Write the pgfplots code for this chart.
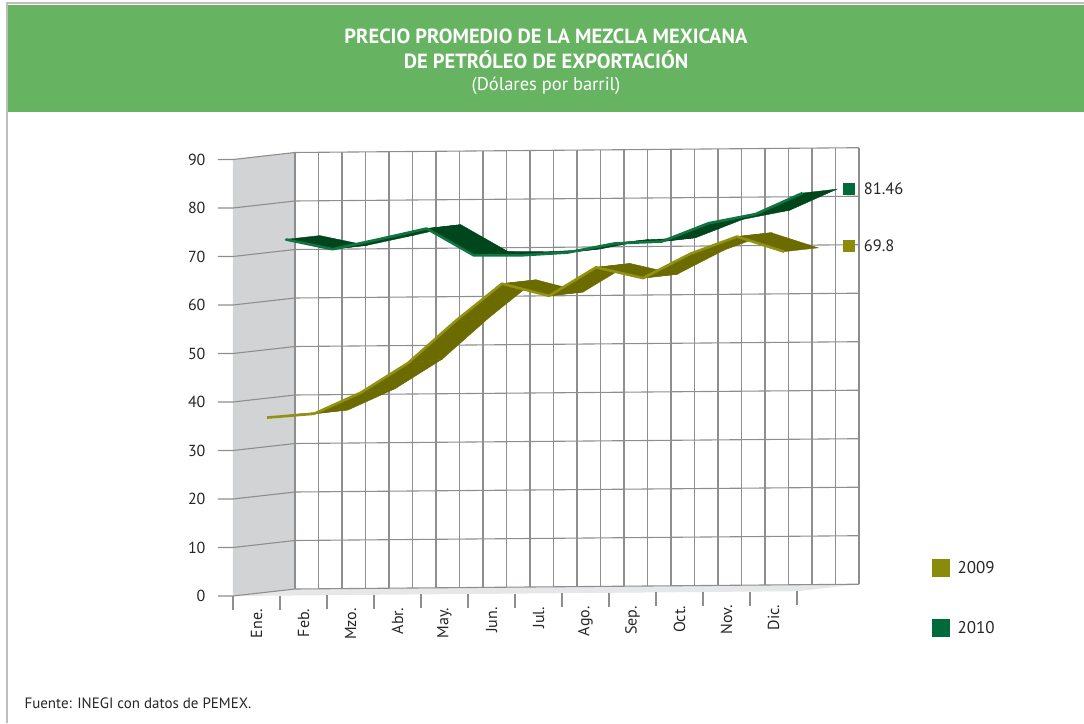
\documentclass[border=0pt]{standalone}
\usepackage{pgfplots}
\pgfplotsset{compat=1.18}
\usepackage{pgfplotstable}
\usepackage{fontspec}
\setmainfont{PT Sans}
\definecolor{banner}{HTML}{66B462}
\definecolor{wallgray}{HTML}{D2D3D5}
\definecolor{floorgray}{HTML}{E6E7E8}
\definecolor{gridgray}{HTML}{8E8E8E}
\definecolor{olivedark}{HTML}{6B6B00}
\definecolor{olivelight}{HTML}{929212}
\definecolor{olivekey}{HTML}{8B8B0B}
\definecolor{greendark}{HTML}{00461D}
\definecolor{greenlight}{HTML}{0E7543}
\definecolor{greenkey}{HTML}{006B3A}
\definecolor{framegray}{HTML}{BDBDBD}
\pgfplotsset{colormap={cmolive}{color=(olivedark) color=(olivedark)},
             colormap={cmgreen}{color=(greendark) color=(greendark)}}

% 2009: month centre m, depth d (front row, then back row), price v
\pgfplotstableread{
m    d    v
0.5  0.17 36.5
1.5  0.17 37.2
2.5  0.17 41.5
3.5  0.17 47.5
4.5  0.17 56.0
5.5  0.17 63.7
6.5  0.17 61.1
7.5  0.17 66.9
8.5  0.17 64.6
9.5  0.17 69.5
10.5 0.17 73.0
11.5 0.17 69.8
0.5  0.72 36.5
1.5  0.72 37.2
2.5  0.72 41.5
3.5  0.72 47.5
4.5  0.72 56.0
5.5  0.72 63.7
6.5  0.72 61.1
7.5  0.72 66.9
8.5  0.72 64.6
9.5  0.72 69.5
10.5 0.72 73.0
11.5 0.72 69.8
}\tabA
% 2010
\pgfplotstableread{
m    d    v
0.5  0.47 72.8
1.5  0.47 70.7
2.5  0.47 72.7
3.5  0.47 74.8
4.5  0.47 69.2
5.5  0.47 69.1
6.5  0.47 69.6
7.5  0.47 71.4
8.5  0.47 71.7
9.5  0.47 75.4
10.5 0.47 77.2
11.5 0.47 81.46
0.5  1.02 72.8
1.5  1.02 70.7
2.5  1.02 72.7
3.5  1.02 74.8
4.5  1.02 69.2
5.5  1.02 69.1
6.5  1.02 69.6
7.5  1.02 71.4
8.5  1.02 71.7
9.5  1.02 75.4
10.5 1.02 77.2
11.5 1.02 81.46
}\tabB

\begin{document}
\begin{tikzpicture}
\begin{axis}[
  x={(47pt,0.4pt)}, y={(62pt,7pt)}, z={(0pt,4.85pt)},
  xmin=0, xmax=12, ymin=0, ymax=1, zmin=0, zmax=90,
  hide axis, clip=false,
]
\coordinate (O) at (axis cs:0,0,0);
% walls
\fill[wallgray] (axis cs:0,0,0) -- (axis cs:0,1,0) -- (axis cs:0,1,90) -- (axis cs:0,0,90) -- cycle;
\fill[floorgray] (axis cs:0,0,0) -- (axis cs:12,0,0) -- (axis cs:12,1,0) -- (axis cs:0,1,0) -- cycle;
% grid
\pgfplotsinvokeforeach{0,0.5,1,1.5,2,2.5,3,3.5,4,4.5,5,5.5,6,6.5,7,7.5,8,8.5,9,9.5,10,10.5,11,11.5,12}{
  \draw[gridgray, line width=1.1pt] (axis cs:#1,1,0) -- (axis cs:#1,1,90);
}
\pgfplotsinvokeforeach{0,10,20,30,40,50,60,70,80,90}{
  \draw[gridgray, line width=1.1pt] ([xshift=-15pt]axis cs:0,0,#1) -- (axis cs:0,0,#1) -- (axis cs:0,1,#1) -- (axis cs:12,1,#1);
  \node[anchor=east, font=\fontsize{16}{19}\selectfont, text=black!85] at ([xshift=-24pt]axis cs:0,0,#1) {#1};
}
\pgfplotsinvokeforeach{0,1,2,3,4,5,6,7,8,9,10,11,12}{
  \draw[gridgray, line width=1.1pt] (axis cs:#1,0,0) -- ++(0pt,-14pt);
}
% series
\addplot3[surf, shader=faceted, faceted color=greendark, colormap name=cmgreen, mesh/rows=2]
  table[x=m, y=d, z=v] {\tabB};
\addplot3[greenlight, line width=2.6pt, line join=round, no marks, skip coords between index={12}{24}]
  table[x=m, y=d, z=v] {\tabB};
\addplot3[surf, shader=faceted, faceted color=olivedark, colormap name=cmolive, mesh/rows=2]
  table[x=m, y=d, z=v] {\tabA};
\addplot3[olivelight, line width=2.6pt, line join=round, no marks, skip coords between index={12}{24}]
  table[x=m, y=d, z=v] {\tabA};
% end value labels, beside the ends of the ribbons
\fill[greenkey] ([xshift=-17pt,yshift=-6pt]axis cs:12,1.02,81.46) rectangle ++(12pt,12pt);
\node[anchor=west, font=\fontsize{16.5}{20}\selectfont, text=black!85] at ([xshift=0pt]axis cs:12,1.02,81.46) {81.46};
\fill[olivekey] ([xshift=-17pt,yshift=-6pt]axis cs:12,1.02,69.8) rectangle ++(12pt,12pt);
\node[anchor=west, font=\fontsize{16.5}{20}\selectfont, text=black!85] at ([xshift=0pt]axis cs:12,1.02,69.8) {69.8};
% month labels
\pgfplotsforeachungrouped \i/\lab in {0/Ene., 1/Feb., 2/Mzo., 3/Abr., 4/May., 5/Jun., 6/Jul., 7/Ago., 8/Sep., 9/Oct., 10/Nov., 11/Dic.}{
  \edef\temp{\noexpand\node[rotate=90, anchor=east, font=\noexpand\fontsize{16}{19}\noexpand\selectfont, text=black!85] at ([yshift=-10pt]axis cs:\i+0.5,0,0) {\lab};}
  \temp
}
\end{axis}
\begin{scope}[shift={(O)}, shift={(-233pt,596pt)}, x=1pt, y=-1pt]
  \pgfresetboundingbox
  \useasboundingbox (0,0) rectangle (1084,723);
  \fill[banner] (7,5) rectangle (1084,112);
  \draw[framegray, line width=1.4pt] (7,723) -- (7,3) -- (1084,3);
  \node[white, font=\bfseries\fontsize{20.5}{24}\selectfont] at (546,36) {PRECIO PROMEDIO DE LA MEZCLA MEXICANA};
  \node[white, font=\bfseries\fontsize{20.5}{24}\selectfont] at (546,60) {DE PETRÓLEO DE EXPORTACIÓN};
  \node[white, font=\fontsize{18.5}{22}\selectfont] at (546,86) {(Dólares por barril)};
  % legend
  \fill[olivekey] (932,559) rectangle (950,577);
  \node[anchor=west, font=\fontsize{17}{20}\selectfont, text=black!85] at (954,568) {2009};
  \fill[greenkey] (932,619) rectangle (950,637);
  \node[anchor=west, font=\fontsize{17}{20}\selectfont, text=black!85] at (954,628) {2010};
  \node[anchor=west, font=\fontsize{15}{18}\selectfont, text=black!85] at (21,703) {Fuente: INEGI con datos de PEMEX.};
\end{scope}
\end{tikzpicture}
\end{document}
